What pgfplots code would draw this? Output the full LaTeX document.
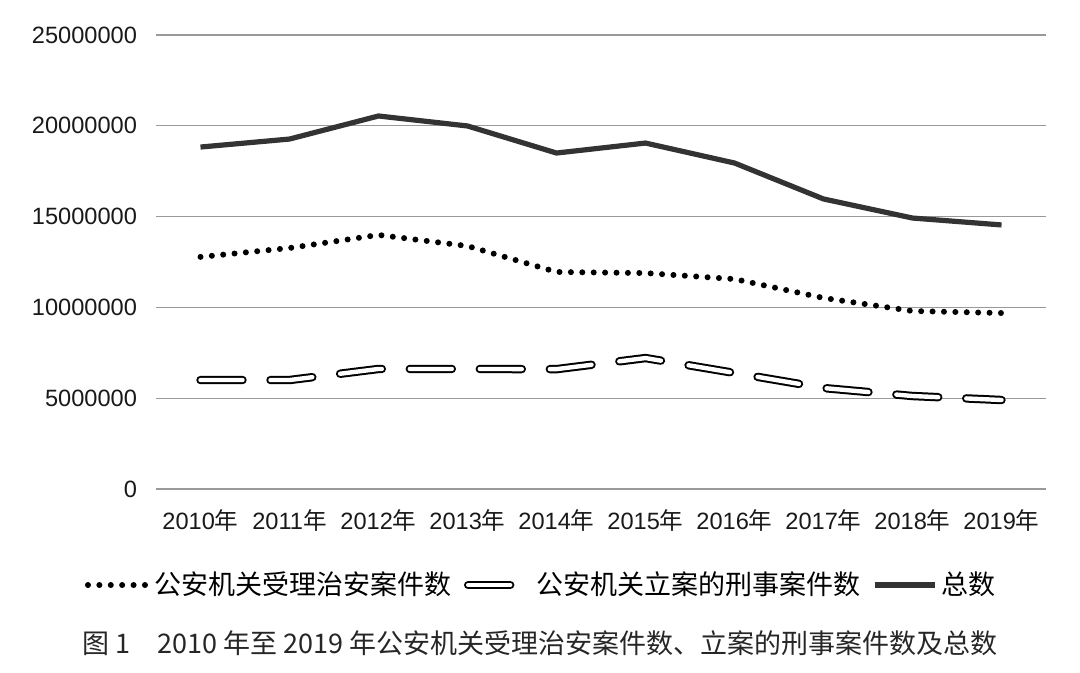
\documentclass[border=0pt]{standalone}
\usepackage{fontspec}
\setmainfont{Liberation Sans}
\newfontfamily\cjk{Noto Sans CJK SC}
\usepackage{pgfplots}
\usepackage{pgfplotstable}
\pgfplotsset{compat=1.18}

\pgfplotstableread{
x total    zhian    xingshi
0 18830000 12780000 6000000
1 19270000 13270000 6000000
2 20540000 13990000 6610000
3 19990000 13380000 6610000
4 18500000 11950000 6600000
5 19050000 11890000 7210000
6 17950000 11560000 6390000
7 15970000 10520000 5560000
8 14920000  9800000 5120000
9 14540000  9690000 4900000
}\data

\begin{document}
\begin{tikzpicture}
\begin{axis}[
    name=ax,
    scale only axis,
    width=445pt, height=227pt,
    xmin=-0.5, xmax=9.5,
    ymin=0, ymax=25000000,
    scaled y ticks=false,
    axis line style={draw=none},
    ymajorgrids,
    grid style={black!40, line width=0.65pt},
    major tick length=0pt,
    xtick={0,1,2,3,4,5,6,7,8,9},
    xticklabels={2010{\cjk 年},2011{\cjk 年},2012{\cjk 年},2013{\cjk 年},2014{\cjk 年},
                 2015{\cjk 年},2016{\cjk 年},2017{\cjk 年},2018{\cjk 年},2019{\cjk 年}},
    ytick={0,5000000,10000000,15000000,20000000,25000000},
    yticklabels={0,5000000,10000000,15000000,20000000,25000000},
    tick label style={font=\fontsize{11.8}{13}\selectfont, text=black!90},
    yticklabel style={xshift=-6pt},
    xticklabel style={yshift=-7pt},
    clip=false,
    legend columns=3,
    legend style={draw=none, at={(0.434,-0.2115)}, anchor=center,
        font=\cjk\fontsize{13.5}{15}\selectfont,
        /tikz/every even column/.append style={column sep=4pt}},
    legend image code/.code={\draw[#1] (0pt,0pt) -- (30pt,0pt);},
]
\addplot[black, line width=3pt, line cap=round, dash pattern=on 0pt off 5.7pt]
    table[x=x, y=zhian]{\data};
\addlegendentry{公安机关受理治安案件数}
\addplot[black, line width=1pt, double=white, double distance=2.2pt, line cap=round,
    dash pattern=on 21pt off 14pt]
    table[x=x, y=xingshi]{\data};
\addlegendentry{公安机关立案的刑事案件数}
\addplot[black!80, line width=2.6pt]
    table[x=x, y=total]{\data};
\addlegendentry{总数}
\end{axis}
\node[font=\cjk\fontsize{13.5}{15}\selectfont, text=black!85, anchor=center]
    at ([xshift=192pt, yshift=-77pt]ax.south west)
    {图 1\quad 2010 年至 2019 年公安机关受理治安案件数、立案的刑事案件数及总数};
\pgfresetboundingbox
\path ([xshift=-78pt, yshift=-92pt]ax.south west) rectangle ++(540pt,336.5pt);
\end{tikzpicture}
\end{document}
